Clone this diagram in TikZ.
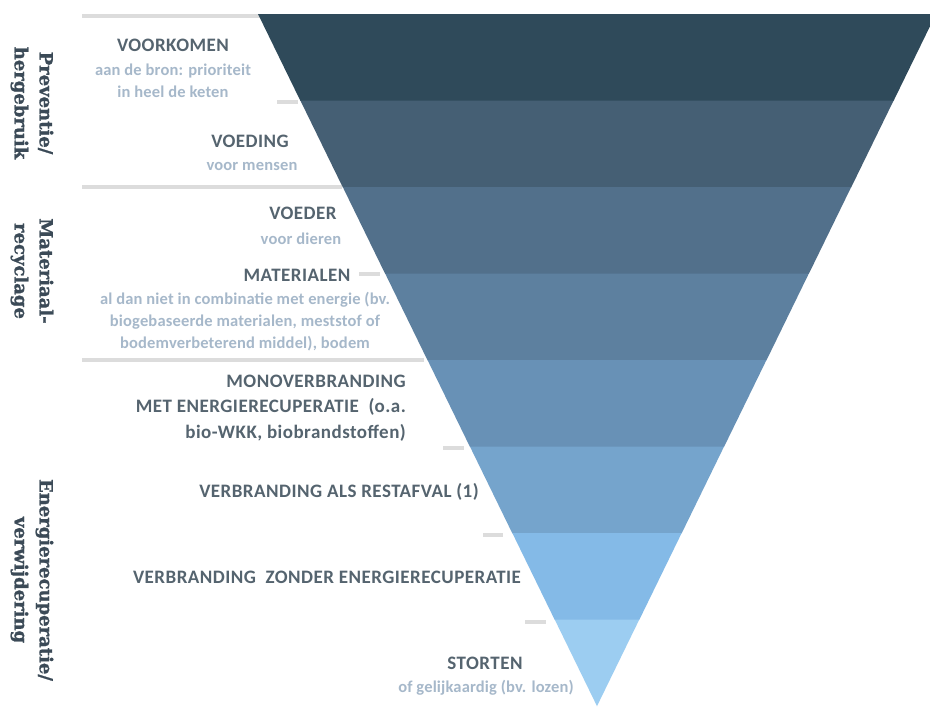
\documentclass[tikz,border=0pt]{standalone}
\usepackage{fontspec}
\setmainfont{Carlito}
\newfontfamily\titlefont[LetterSpace=2.5]{Carlito}
\newfontfamily\subfont[LetterSpace=1]{Carlito}
\newfontfamily\slabfont[FakeBold=1.2]{DejaVu Serif Bold}
\definecolor{bandA}{HTML}{2F4A5A}
\definecolor{bandB}{HTML}{455F74}
\definecolor{bandC}{HTML}{52708B}
\definecolor{bandD}{HTML}{5D809F}
\definecolor{bandE}{HTML}{6891B6}
\definecolor{bandF}{HTML}{75A4CC}
\definecolor{bandG}{HTML}{84BAE7}
\definecolor{bandH}{HTML}{9CCDF1}
\definecolor{sepgray}{HTML}{DCDCDC}
\definecolor{titlecol}{HTML}{55646F}
\definecolor{subcol}{HTML}{A6B8CA}
\definecolor{labelcol}{HTML}{3B4A57}
\tikzset{
  titletxt/.style={text=titlecol, font=\titlefont\fontsize{19}{25.5}\selectfont\bfseries, inner sep=0pt},
  subtxt/.style={text=subcol, font=\subfont\fontsize{16.5}{22}\selectfont\bfseries, inner sep=0pt},
  sidelabel/.style={text=labelcol, font=\slabfont\fontsize{18}{25}\selectfont, rotate=-90, align=center, inner sep=0pt},
  sepline/.style={draw=sepgray, line width=4pt},
  dashmark/.style={draw=sepgray, line width=4pt}
}
\begin{document}
\begin{tikzpicture}[x=1pt,y=-1pt]
\useasboundingbox (0,0) rectangle (930,707);
\clip (0,0) rectangle (930,707);
\fill[white] (0,0) rectangle (930,707);
% separator lines
\draw[sepline] (82,16) -- (262,16);
\draw[sepline] (82,187) -- (342,187);
\draw[sepline] (82,360) -- (424,360);
% bands
\foreach \i/\c in {0/bandA,1/bandB,2/bandC,3/bandD,4/bandE,5/bandF,6/bandG,7/bandH}{
  \pgfmathsetmacro{\ya}{14+\i*86.5}
  \pgfmathsetmacro{\yb}{14+(\i+1)*86.5}
  \pgfmathsetmacro{\xla}{258+(\ya-14)*0.49}
  \pgfmathsetmacro{\xlb}{258+(\yb-14)*0.49}
  \pgfmathsetmacro{\xra}{936-(\ya-14)*0.49}
  \pgfmathsetmacro{\xrb}{936-(\yb-14)*0.49}
  \fill[\c] (\xla,\ya) -- (\xra,\ya) -- (\xrb,\yb+0.3) -- (\xlb,\yb+0.3) -- cycle;
}
% short dashes
\draw[dashmark] (277,102) -- (298,102);
\draw[dashmark] (359,274) -- (380,274);
\draw[dashmark] (443,448) -- (464,448);
\draw[dashmark] (483,535) -- (503,535);
\draw[dashmark] (525,622) -- (546,622);
% side labels
\node[sidelabel] (lab1) at (32,103) {Preventie/\\hergebruik};
\node[sidelabel] (lab2) at (32,271) {Materiaal-\\recyclage};
\node[sidelabel] (lab3) at (32,580) {Energierecuperatie/\\verwijdering};
% texts
\node[titletxt] (voorkomen) at (173,45) {VOORKOMEN};
\node[subtxt, align=center] (voorkomensub) at (173,81) {aan de bron: prioriteit\\in heel de keten};
\node[titletxt] (voeding) at (250,141) {VOEDING};
\node[subtxt] (voedingsub) at (252,166) {voor mensen};
\node[titletxt] (voeder) at (303,213) {VOEDER};
\node[subtxt] (voedersub) at (301,239) {voor dieren};
\node[titletxt] (materialen) at (297,275) {MATERIALEN};
\node[subtxt, align=center] (materialensub) at (245,322) {al dan niet in combinatie met energie (bv.\\biogebaseerde materialen, meststof of\\bodemverbeterend middel), bodem};
\node[titletxt, align=right, anchor=east] (mono) at (406,408) {MONOVERBRANDING\\MET ENERGIERECUPERATIE \ (o.a.\\bio-WKK, biobrandstoffen)};
\node[titletxt] (rest) at (339,492) {VERBRANDING ALS RESTAFVAL (1)};
\node[titletxt] (zonder) at (327,577) {VERBRANDING \ ZONDER ENERGIERECUPERATIE};
\node[titletxt] (storten) at (485,663) {STORTEN};
\node[subtxt] (stortensub) at (486,688) {of gelijkaardig (bv. lozen)};
\end{tikzpicture}
\end{document}
